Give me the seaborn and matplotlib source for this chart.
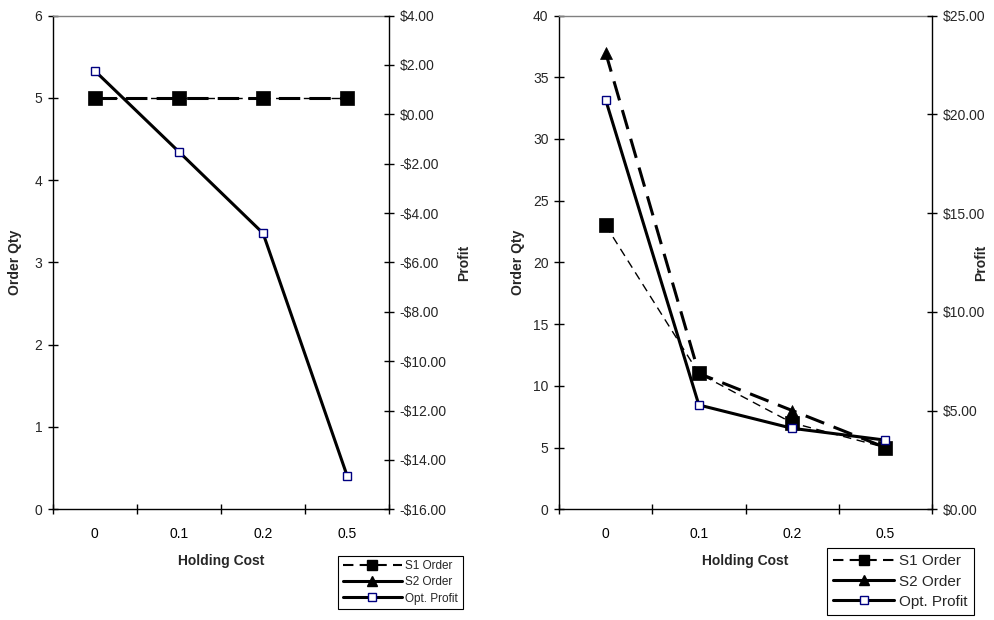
import matplotlib
matplotlib.use("Agg")
import matplotlib.pyplot as plt
from matplotlib.lines import Line2D
from matplotlib.ticker import FixedLocator, NullFormatter, FixedFormatter, MultipleLocator, FuncFormatter
import seaborn as sns

# Holding cost scenarios (categorical x axis)
holding_cost = ["0", "0.1", "0.2", "0.5"]

# Scenario A: order quantities and optimal profit
s1_order_a = [5, 5, 5, 5]
s2_order_a = [5, 5, 5, 5]
opt_profit_a = [1.76, -1.52, -4.82, -14.65]

# Scenario B: order quantities and optimal profit
s1_order_b = [23, 11, 7, 5]
s2_order_b = [37, 11, 8, 5]
opt_profit_b = [20.74, 5.28, 4.10, 3.50]

series_labels = ["S1 Order", "S2 Order", "Opt. Profit"]

sns.set_style("white")
plt.rcParams["font.family"] = ["Liberation Sans", "DejaVu Sans"]
plt.rcParams["axes.linewidth"] = 1.0

NAVY = "#000080"


def money(v, _pos=None):
    return f"-${abs(v):.2f}" if v < 0 else f"${v:.2f}"


def draw_panel(ax, s1, s2, profit, qty_lim, qty_step, prof_lim, prof_step,
               s2_dash, qty_pad, profit_label_x):
    sns.lineplot(x=holding_cost, y=s2, ax=ax, sort=False, color="black",
                 lw=2.2, linestyle=(0, s2_dash), marker="^", markersize=9,
                 markeredgecolor="black", markerfacecolor="black",
                 markeredgewidth=0.5)
    sns.lineplot(x=holding_cost, y=s1, ax=ax, sort=False, color="black",
                 lw=1.0, linestyle=(0, (6, 4)), marker="s", markersize=9.5,
                 markeredgecolor="black", markerfacecolor="black",
                 markeredgewidth=0.5)
    tw = ax.twinx()
    sns.lineplot(x=holding_cost, y=profit, ax=tw, sort=False, color="black",
                 lw=2.2, marker="s", markersize=5.5, markeredgecolor=NAVY,
                 markerfacecolor="white", markeredgewidth=1.0)

    n = len(holding_cost)
    ax.set_xlim(-0.5, n - 0.5)
    ax.xaxis.set_major_locator(FixedLocator([i - 0.5 for i in range(n + 1)]))
    ax.xaxis.set_major_formatter(NullFormatter())
    ax.xaxis.set_minor_locator(FixedLocator(list(range(n))))
    ax.xaxis.set_minor_formatter(FixedFormatter(holding_cost))
    ax.tick_params(axis="x", which="major", direction="inout", length=7,
                   width=1, color="black", bottom=True)
    ax.tick_params(axis="x", which="minor", length=0, pad=13, labelsize=10,
                   labelcolor="black")

    ax.set_ylim(*qty_lim)
    ax.yaxis.set_major_locator(MultipleLocator(qty_step))
    ax.tick_params(axis="y", direction="inout", length=7, width=1,
                   color="black", labelsize=10, pad=4, left=True)

    tw.set_ylim(*prof_lim)
    tw.yaxis.set_major_locator(MultipleLocator(prof_step))
    tw.yaxis.set_major_formatter(FuncFormatter(money))
    tw.tick_params(axis="y", direction="inout", length=7, width=1,
                   color="black", labelsize=10, pad=4, right=True)

    for a in (ax, tw):
        for side in ("left", "right", "bottom", "top"):
            a.spines[side].set_visible(False)
    ax.spines["left"].set_visible(True)
    ax.spines["bottom"].set_visible(True)
    ax.spines["top"].set_visible(True)
    ax.spines["top"].set_color("#808080")
    tw.spines["right"].set_visible(True)
    for s in ("left", "bottom"):
        ax.spines[s].set_color("black")
    tw.spines["right"].set_color("black")

    ax.set_xlabel("Holding Cost", fontsize=10, fontweight="bold", labelpad=9)
    ax.set_ylabel("Order Qty", fontsize=10, fontweight="bold", labelpad=qty_pad)
    tw.set_ylabel("Profit", fontsize=10, fontweight="bold")
    tw.yaxis.set_label_coords(profit_label_x, 0.5)
    return tw


fig = plt.figure(figsize=(9.95, 6.2), dpi=100)
ax_a = fig.add_axes([0.053, 0.1786, 0.3382, 0.7964])
ax_b = fig.add_axes([0.5618, 0.1786, 0.3749, 0.7964])

draw_panel(ax_a, s1_order_a, s2_order_a, opt_profit_a, (0, 6), 1, (-16, 4), 2,
           (7, 3), 9, 1.2015)
draw_panel(ax_b, s1_order_b, s2_order_b, opt_profit_b, (0, 40), 5, (0, 25), 5,
           (6.5, 3.3), 6, 1.1126)


def legend_handles(scale):
    return [
        Line2D([], [], color="black", lw=1.5, linestyle=(0, (5, 3)), marker="s",
               markersize=7 * scale, markerfacecolor="black",
               markeredgecolor="black"),
        Line2D([], [], color="black", lw=2.2, linestyle="-", marker="^",
               markersize=7 * scale, markerfacecolor="black",
               markeredgecolor="black"),
        Line2D([], [], color="black", lw=2.2, linestyle="-", marker="s",
               markersize=5.5 * scale, markerfacecolor="white",
               markeredgecolor=NAVY, markeredgewidth=1.0),
    ]


for center, fs, hl, ls, sc in (((0.4025, 0.0605), 8.5, 5.0, 0.35, 1.0),
                               ((0.905, 0.062), 11, 4.0, 0.4, 1.1)):
    leg = fig.legend(legend_handles(sc), series_labels, loc="center",
                     bbox_to_anchor=center, fontsize=fs, frameon=True,
                     fancybox=False, edgecolor="black", framealpha=1,
                     handlelength=hl, handletextpad=0.3, borderpad=0.4,
                     labelspacing=ls, numpoints=1)
    leg.get_frame().set_linewidth(0.8)

fig.savefig("out.png", dpi=100)
